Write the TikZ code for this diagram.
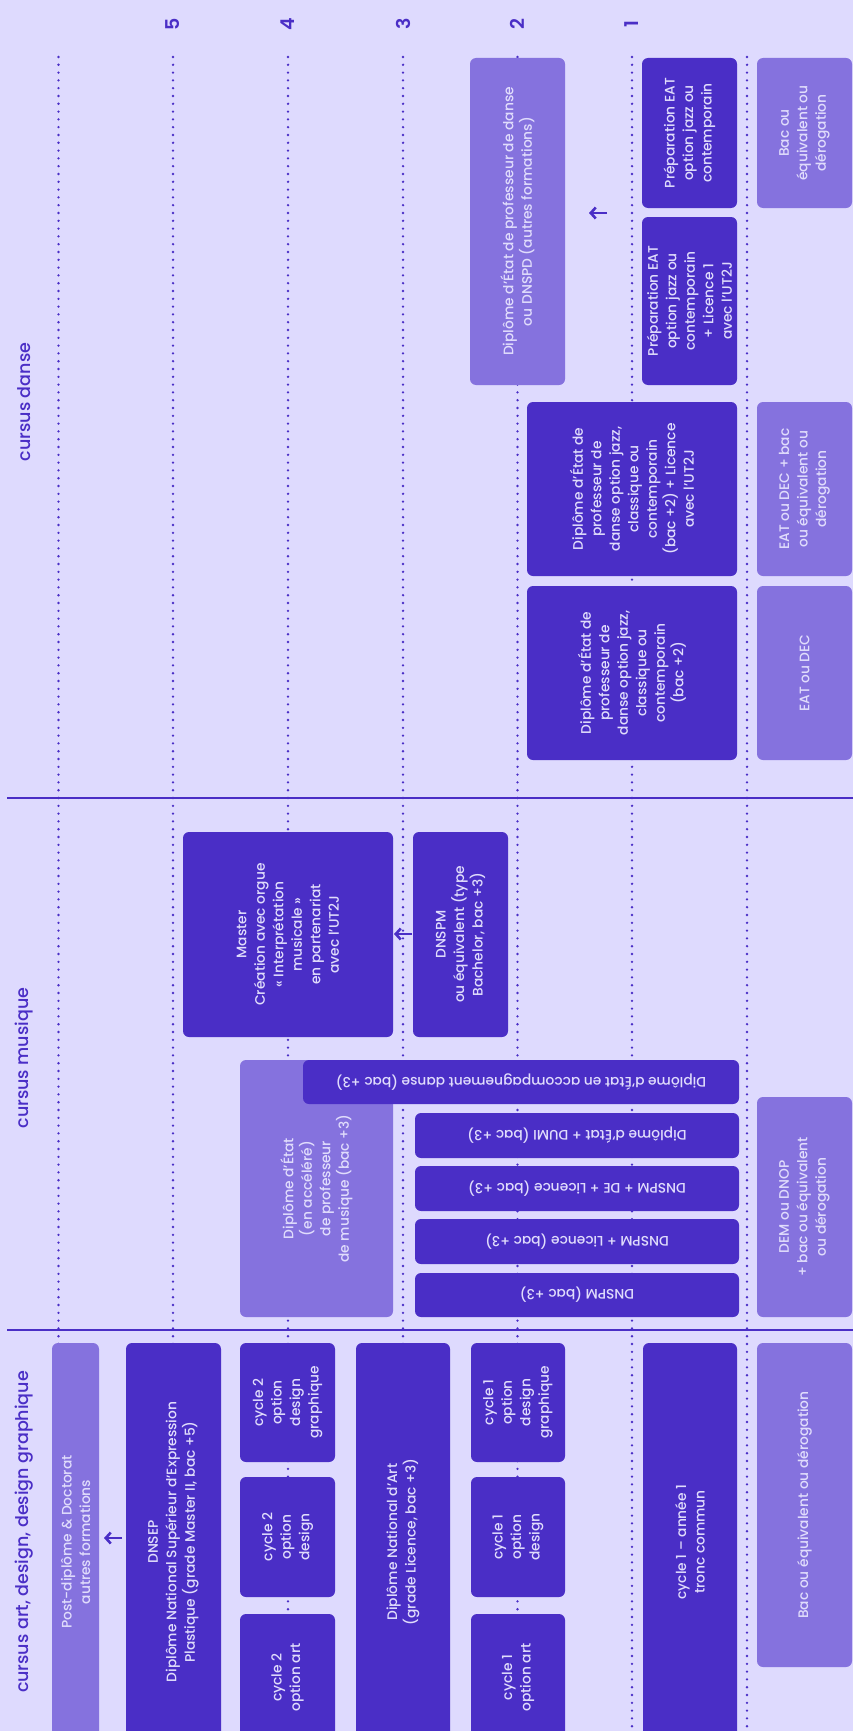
\documentclass[tikz,border=0pt]{standalone}
\usepackage{fontspec}
\setmainfont{Poppins}[UprightFont={* Medium},BoldFont={* SemiBold}]
\usetikzlibrary{arrows.meta}
\definecolor{bgc}{HTML}{DEDAFE}
\definecolor{dk}{HTML}{4A2EC6}
\definecolor{lt}{HTML}{8572DE}
\definecolor{tx}{HTML}{E0DCFC}
\tikzset{
 dkbox/.style={fill=dk, text=tx, rounded corners=6pt, inner sep=0pt, align=center, font=\fontsize{13.8}{18.5}\selectfont},
 ltbox/.style={dkbox, fill=lt},
 dotl/.style={dk, line width=2.6pt, line cap=round, dash pattern=on 0pt off 7.8pt},
 sepl/.style={dk, line width=1.4pt},
 ttl/.style={text=dk, rotate=90, font=\fontsize{17.5}{20}\selectfont, inner sep=0pt},
 numl/.style={text=dk, rotate=90, font=\fontsize{19}{20}\selectfont\bfseries, inner sep=0pt},
 arr/.style={dk, line width=2.6pt, -{Straight Barb[length=5pt,width=11pt]}}
}
\newcommand\bxv[7]{%
  \pgfmathsetmacro\bxW{#6-#4}%
  \pgfmathsetmacro\bxH{#5-#3}%
  \pgfmathsetmacro\bxX{(#3+#5)/2}%
  \pgfmathsetmacro\bxY{(#4+#6)/2}%
  \node[#2,rotate=90,minimum width=\bxW pt,minimum height=\bxH pt] (#1) at (\bxX,\bxY) {#7};}
\newcommand\bxh[7]{%
  \pgfmathsetmacro\bxW{#5-#3}%
  \pgfmathsetmacro\bxH{#6-#4}%
  \pgfmathsetmacro\bxX{(#3+#5)/2}%
  \pgfmathsetmacro\bxY{(#4+#6)/2}%
  \node[#2,rotate=180,minimum width=\bxW pt,minimum height=\bxH pt] (#1) at (\bxX,\bxY) {#7};}
\begin{document}
\begin{tikzpicture}[x=1pt,y=-1pt]
\useasboundingbox (0,0) rectangle (853,1731);
\clip (0,0) rectangle (853,1731);
\fill[bgc] (0,0) rectangle (853,1731);
\foreach \xx in {58.5,173,288,403,517.5,632,747}{\draw[dotl] (\xx,57) -- (\xx,1736);}
\draw[sepl] (7,798) -- (853,798);
\draw[sepl] (7,1330) -- (853,1330);
% headings
\node[numl] (n5) at (173,24) {5};
\node[numl] (n4) at (288,24) {4};
\node[numl] (n3) at (403,24) {3};
\node[numl] (n2) at (517.5,24) {2};
\node[numl] (n1) at (632,24) {1};
\node[ttl] (t1) at (24,402) {cursus danse};
\node[ttl] (t2) at (24,1058) {cursus musique};
\node[ttl] (t3) at (24,1532) {cursus art, design, design graphique};
% danse
\bxv{da}{ltbox}{470}{58}{565}{385}{Diplôme d’État de professeur de danse\\ou DNSPD (autres formations)}
\bxv{db}{dkbox}{642}{58}{737}{208}{Préparation EAT\\option jazz ou\\contemporain}
\bxv{dc}{dkbox}{642}{217}{737}{385}{Préparation EAT\\option jazz ou\\contemporain\\+ Licence 1\\avec l’UT2J}
\bxv{dd}{ltbox}{757}{58}{852}{208}{Bac ou\\équivalent ou\\dérogation}
\bxv{de}{dkbox}{527}{402}{737}{576}{Diplôme d’État de\\professeur de\\danse option jazz,\\classique ou\\contemporain\\(bac +2) + Licence\\avec l’UT2J}
\bxv{df}{dkbox}{527}{586}{737}{760}{Diplôme d’État de\\professeur de\\danse option jazz,\\classique ou\\contemporain\\(bac +2)}
\bxv{dg}{ltbox}{757}{402}{852}{576}{EAT ou DEC + bac\\ou équivalent ou\\dérogation}
\bxv{dh}{ltbox}{757}{586}{852}{760}{EAT ou DEC}
\coordinate (a1s) at (607,213);
\coordinate (a1e) at (589,213);
\draw[arr] (a1s) -- (a1e);
% musique
\bxv{ma}{dkbox}{183}{832}{393}{1037}{Master\\Création avec orgue\\« Interprétation\\musicale »\\en partenariat\\avec l’UT2J}
\bxv{mb}{dkbox}{413}{832}{508}{1037}{DNSPM\\ou équivalent (type\\Bachelor, bac +3)}
\coordinate (a2s) at (412,934);
\coordinate (a2e) at (394,934);
\draw[arr] (a2s) -- (a2e);
\bxv{mc}{ltbox}{240}{1060}{393}{1317}{Diplôme d’État\\(en accéléré)\\de professeur\\de musique (bac +3)}
\bxh{md}{dkbox}{303}{1060}{739}{1104}{Diplôme d’État en accompagnement danse (bac +3)}
\bxh{me}{dkbox}{415}{1113}{739}{1158}{Diplôme d’État + DUMI (bac +3)}
\bxh{mf}{dkbox}{415}{1166}{739}{1211}{DNSPM + DE + Licence (bac +3)}
\bxh{mg}{dkbox}{415}{1219}{739}{1264}{DNSPM + Licence (bac +3)}
\bxh{mh}{dkbox}{415}{1273}{739}{1317}{DNSPM (bac +3)}
\bxv{mi}{ltbox}{757}{1097}{852}{1317}{DEM ou DNOP\\+ bac ou équivalent\\ou dérogation}
% art
\bxv{aa}{ltbox}{52}{1343}{99}{1741}{Post-diplôme \& Doctorat\\autres formations}
\coordinate (a3s) at (122,1538);
\coordinate (a3e) at (104,1538);
\draw[arr] (a3s) -- (a3e);
\bxv{ab}{dkbox}{126}{1343}{221}{1741}{DNSEP\\Diplôme National Supérieur d’Expression\\Plastique (grade Master II, bac +5)}
\bxv{ac}{dkbox}{240}{1343}{335}{1462}{cycle 2\\option\\design\\graphique}
\bxv{ad}{dkbox}{240}{1477}{335}{1597}{cycle 2\\option\\design}
\bxv{ae}{dkbox}{240}{1614}{335}{1741}{cycle 2\\option art}
\bxv{af}{dkbox}{356}{1343}{450}{1741}{Diplôme National d’Art\\(grade Licence, bac +3)}
\bxv{ag}{dkbox}{471}{1343}{565}{1462}{cycle 1\\option\\design\\graphique}
\bxv{ah}{dkbox}{471}{1477}{565}{1597}{cycle 1\\option\\design}
\bxv{ai}{dkbox}{471}{1614}{565}{1741}{cycle 1\\option art}
\bxv{aj}{dkbox}{643}{1343}{737}{1741}{cycle 1 – année 1\\tronc commun}
\bxv{ak}{ltbox}{757}{1343}{852}{1667}{Bac ou équivalent ou dérogation}
\end{tikzpicture}
\end{document}
